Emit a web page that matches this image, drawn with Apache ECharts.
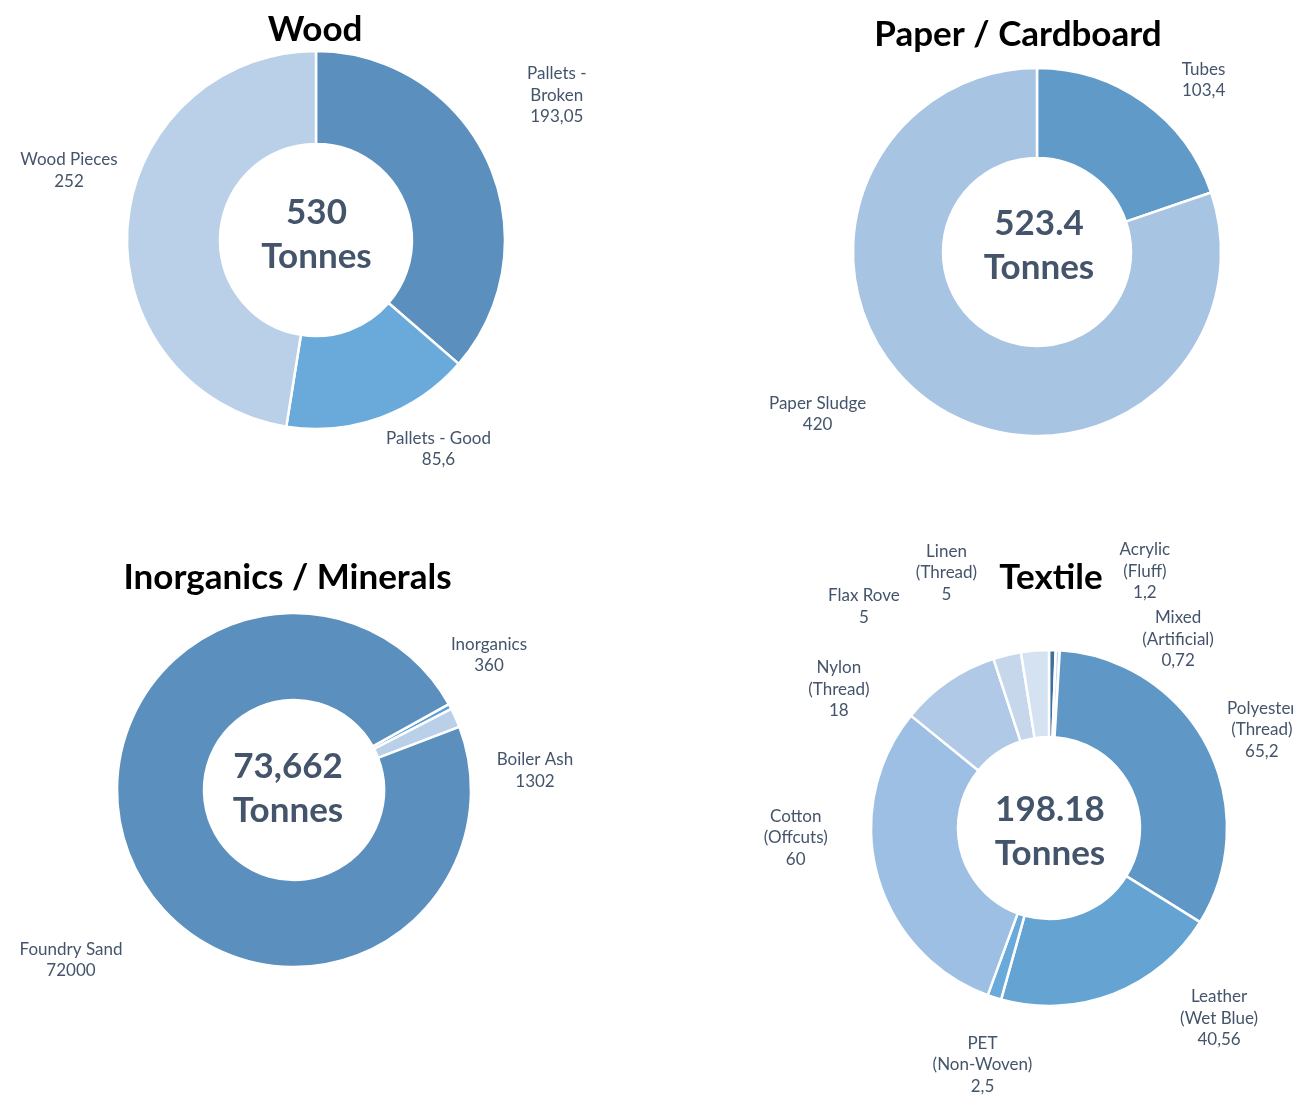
<!DOCTYPE html>
<html><head><meta charset="utf-8">
<script src="https://cdn.jsdelivr.net/npm/echarts@6/dist/echarts.min.js"></script>
<style>html,body{margin:0;padding:0;background:#fff}#c{width:1293px;height:1095px}</style>
</head><body><div id="c"></div>
<script>
const woodNames = ['Pallets -\nBroken', 'Pallets - Good', 'Wood Pieces'];
const woodValues = [193.05, 85.6, 252];
const paperNames = ['Tubes', 'Paper Sludge'];
const paperValues = [103.4, 420];
const inorgNames = ['Inorganics', 'Boiler Ash', 'Foundry Sand'];
const inorgValues = [360, 1302, 72000];
const textileNames = ['Acrylic\n(Fluff)', 'Mixed\n(Artificial)', 'Polyester\n(Thread)', 'Leather\n(Wet Blue)', 'PET\n(Non-Woven)', 'Cotton\n(Offcuts)', 'Nylon\n(Thread)', 'Flax Rove', 'Linen\n(Thread)'];
const textileValues = [1.2, 0.72, 65.2, 40.56, 2.5, 60, 18, 5, 5];
const chartTitles = ['Wood', 'Paper / Cardboard', 'Inorganics / Minerals', 'Textile'];
const totalLabels = ['530', '523.4', '73,662', '198.18'];

// ---- styling / layout (not data) ----
const woodColors = ['#5b8fbe', '#6aaadb', '#bad0e8'];
const paperColors = ['#5f9ac8', '#a8c4e3'];
const inorgColors = ['#5a9fd4', '#bad0e8', '#5b8fbe'];
const textileColors = ['#3f6f9d', '#c8d8ec', '#5f97c6', '#64a3d2', '#6aaadb', '#9cbfe3', '#b0c9e6', '#c6d7ec', '#d5e2f2'];

// label nudges (dx, dy) relative to the library's outside-label position
const woodNudge = [[25, -62], [-3, 22], [5, -54]];
const paperNudge = [[27, -14], [-53, 4]];
const inorgNudge = [[-13, -47], [27, 57], [3, 91]];
const textileNudge = [[62, -69], [79, -1], [6, -12], [58, 15], [46, 58], [-35, -40], [-68, 16], [-100, -39], [-52, -68]];

const FONT = 'Lato';
const LABEL_COLOR = '#44546a';

function mk(names, values, colors) {
  return names.map((n, i) => ({ name: n, value: values[i], itemStyle: { color: colors[i] } }));
}
function fmt(p) {
  const lines = p.name.split('\n');
  lines.push(String(p.value).replace('.', ','));
  return lines.map(l => '{a|' + l + '}').join('\n');
}

function pieSeries(data, center, radius, startAngle, nudge) {
  return {
    type: 'pie', center: center, radius: radius, startAngle: startAngle, clockwise: true,
    data: data, avoidLabelOverlap: false,
    itemStyle: { borderColor: '#fff', borderWidth: 2.5 },
    label: { show: true, position: 'outside', formatter: fmt, overflow: 'none',
      distanceToLabelLine: 5,
      rich: { a: { align: 'center', color: LABEL_COLOR, fontFamily: FONT, fontSize: 17, lineHeight: 21.5 } } },
    labelLine: { show: false, length: 10, length2: 0 },
    labelLayout: function (p) { const n = nudge[p.dataIndex]; return { dx: n[0], dy: n[1] }; },
    emphasis: { disabled: true }
  };
}

const centers = [[316, 240], [1037, 252], [294, 790], [1049, 828]];
const titlePos = [[315, 12], [1018, 17], [287.5, 560], [1051, 560]];
const totalPos = [[316.5, 191], [1039, 201.5], [288, 745], [1050, 788]];

const titles = [];
chartTitles.forEach((t, i) => titles.push({
  text: t, left: titlePos[i][0], top: titlePos[i][1], textAlign: 'center', padding: 0,
  textStyle: { fontFamily: FONT, fontWeight: 'bold', fontSize: 35, color: '#000' }
}));
totalLabels.forEach((t, i) => titles.push({
  text: t + '\nTonnes', left: totalPos[i][0], top: totalPos[i][1], textAlign: 'center', padding: 0,
  textStyle: { fontFamily: FONT, fontWeight: 'bold', fontSize: 35, lineHeight: 44, color: '#44546a' }
}));

const chart = echarts.init(document.getElementById('c'));
chart.setOption({
  backgroundColor: '#fff',
  animation: false,
  title: titles,
  series: [
    pieSeries(mk(woodNames, woodValues, woodColors), centers[0], [96, 189], 90, woodNudge),
    pieSeries(mk(paperNames, paperValues, paperColors), centers[1], [94, 184], 90, paperNudge),
    pieSeries(mk(inorgNames, inorgValues, inorgColors), centers[2], [90, 177], 29, inorgNudge),
    pieSeries(mk(textileNames, textileValues, textileColors), centers[3], [91, 178], 90, textileNudge)
  ]
});
</script></body></html>
